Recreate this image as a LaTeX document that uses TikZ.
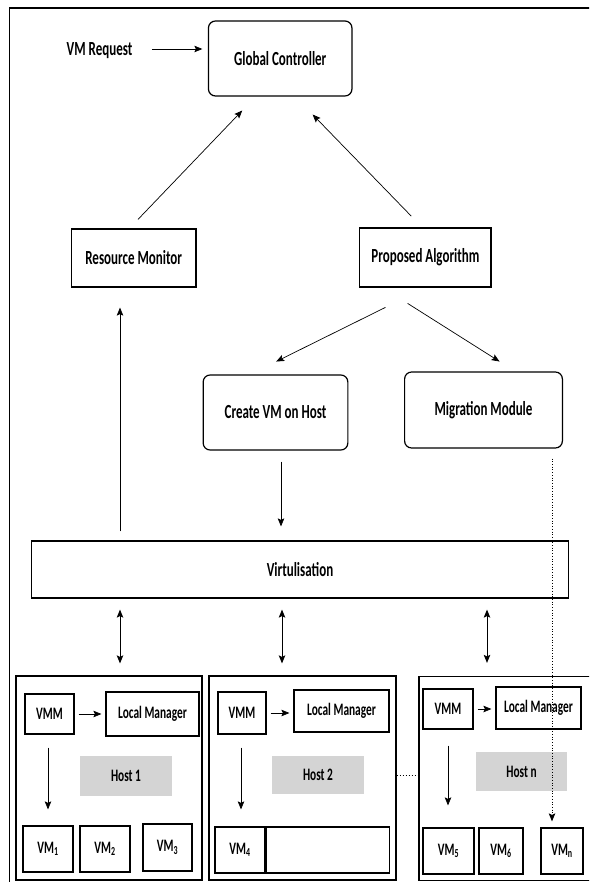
\documentclass[tikz,border=0pt]{standalone}
\usepackage{fontspec}
\setmainfont{Carlito}[FakeStretch=0.65]
\usepackage{tikz}
\usetikzlibrary{arrows.meta}
\usetikzlibrary{positioning}
\tikzset{>={Stealth[length=8pt,width=6.5pt,inset=1.5pt]}}
\tikzset{
  box/.style={draw, line width=1.2pt, inner sep=0pt, font=\fontsize{20}{22}\selectfont\bfseries},
  rbox/.style={box, rounded corners=7pt},
  sbox/.style={box, font=\fontsize{17.5}{19}\selectfont\bfseries},
  hostlbl/.style={fill=black!17, inner sep=0pt, font=\fontsize{17.5}{19}\selectfont\bfseries},
  hostbox/.style={draw, line width=1.2pt, inner sep=0pt},
  arr/.style={->, line width=0.7pt},
  dbl/.style={<->, line width=1pt},
}

\begin{document}
\begin{tikzpicture}[x=1pt,y=-1pt]
        \useasboundingbox (0,0) rectangle (589,882);
        \clip (0,0) rectangle (589,882);
        \fill[white] (0,0) rectangle (589,882);
        % outer frame
        \draw[line width=1.8pt] (9.4,890) -- (9.4,8) -- (600,8);

        % upper part
        \node[font=\fontsize{20}{22}\selectfont\bfseries] (req) at (99.5,51) {VM Request};
        \node[rbox, minimum width=143.5pt, minimum height=75pt] (gc) at (280.2,58.5) {Global Controller};
        \node[box, minimum width=124.7pt, minimum height=58pt] (rm) at (133.7,258) {Resource Monitor};
        \node[box, minimum width=131.1pt, minimum height=59pt] (pa) at (425.4,257.5) {Proposed Algorithm};
        \node[rbox, minimum width=144.7pt, minimum height=75pt] (cv) at (275.5,412.5) {Create VM on Host};
        \node[rbox, minimum width=157.8pt, minimum height=76pt] (mm) at (483.5,410) {Migration Module};
        \node[box, minimum width=536.8pt, minimum height=57pt] (virt) at (300,569.5) {Virtulisation};

        \draw[arr, shorten <=16pt, shorten >=5.5pt] ([yshift=2pt]req.east) -- ([yshift=2pt]req.east -| gc.west);
        \draw[arr, shorten <=12.4pt, shorten >=19.3pt] ([xshift=-4.3pt]rm.north) -- ([xshift=-24.6pt]gc.south);
        \draw[arr, shorten <=15.7pt, shorten >=25pt] ([xshift=-3.2pt]pa.north) -- ([xshift=15pt]gc.south);
        \draw[arr, shorten <=44.6pt, shorten >=29pt] (pa.south) -- ([xshift=-25.3pt]cv.north);
        \draw[arr, shorten <=29.6pt, shorten >=18.5pt] ([xshift=-42.8pt]pa.south) -- ([xshift=31.7pt]mm.north);
        \draw[arr, shorten <=11pt, shorten >=14pt] ([xshift=5.5pt]cv.south) -- ([xshift=5.5pt]cv.south |- virt.north);
        \draw[arr, shorten <=9pt, shorten >=20pt] ([xshift=-180pt]virt.north) -- ([xshift=-180pt]virt.north |- rm.south);

        % hosts
        \node[hostbox, minimum width=186pt, minimum height=204pt] (h1) at (109,778) {};
        \node[hostbox, minimum width=187pt, minimum height=204pt] (h2) at (302.5,778) {};
        \node[hostbox, minimum width=181pt, minimum height=204pt] (hn) at (509.5,778.5) {};

        \draw[dbl, shorten <=12pt, shorten >=11pt] ([xshift=11pt]h1.north) -- ([xshift=11pt]h1.north |- virt.south);
        \draw[dbl, shorten <=12pt, shorten >=11pt] ([xshift=-20.5pt]h2.north) -- ([xshift=-20.5pt]h2.north |- virt.south);
        \draw[dbl, shorten <=13pt, shorten >=11pt] ([xshift=-22.5pt]hn.north) -- ([xshift=-22.5pt]hn.north |- virt.south);
        \draw[dotted, line width=1pt] ([yshift=3pt]h2.east) -- ([yshift=3pt]h2.east -| hn.west);

        % host 1
        \node[sbox, minimum width=49pt, minimum height=40pt] (vmm1) at (49.5,714) {VMM};
        \node[sbox, minimum width=93pt, minimum height=44pt] (lm1) at (152.5,714) {Local Manager};
        \node[hostlbl, minimum width=92pt, minimum height=40pt] (hl1) at (126,776) {Host 1};
        \node[sbox, minimum width=50pt, minimum height=46pt] (vm1) at (48,849) {VM\textsubscript{1}};
        \node[sbox, minimum width=50pt, minimum height=46pt] (vm2) at (105,849) {VM\textsubscript{2}};
        \node[sbox, minimum width=49pt, minimum height=47pt] (vm3) at (167.5,847.5) {VM\textsubscript{3}};
        \draw[arr, shorten <=4pt, shorten >=4pt] (vmm1.east) -- (lm1.west);
        \draw[arr, shorten <=13pt, shorten >=16pt] ([xshift=-1.5pt]vmm1.south) -- (vm1.north);

        % host 2
        \node[sbox, minimum width=48pt, minimum height=42pt] (vmm2) at (242,713) {VMM};
        \node[sbox, minimum width=95pt, minimum height=42pt] (lm2) at (341.5,711) {Local Manager};
        \node[hostlbl, minimum width=92pt, minimum height=38pt] (hl2) at (318,775) {Host 2};
        \node[sbox, minimum width=50pt, minimum height=46pt] (vm4) at (240,850) {VM\textsubscript{4}};
        \node[sbox, minimum width=123pt, minimum height=46pt, anchor=west] (vmx) at (vm4.east) {};
        \draw[arr, shorten <=4pt, shorten >=4pt] (vmm2.east) -- (vmm2.east -| lm2.west);
        \draw[arr, shorten <=13pt, shorten >=17pt] ([xshift=-1pt]vmm2.south) -- ([xshift=-1pt]vmm2.south |- vm4.north);

        % host n
        \node[sbox, minimum width=50pt, minimum height=40pt] (vmm3) at (448,709) {VMM};
        \node[sbox, minimum width=85pt, minimum height=42pt] (lmn) at (538.5,708) {Local Manager};
        \node[hostlbl, minimum width=91pt, minimum height=39pt] (hln) at (521.5,771.5) {Host n};
        \node[sbox, minimum width=51pt, minimum height=46pt] (vm5) at (448.5,851) {VM\textsubscript{5}};
        \node[sbox, minimum width=44pt, minimum height=46pt] (vm6) at (501,851) {VM\textsubscript{6}};
        \node[sbox, minimum width=42pt, minimum height=46pt] (vmn) at (562,851) {VM\textsubscript{n}};
        \draw[arr, shorten <=4pt, shorten >=4pt] (vmm3.east) -- (vmm3.east -| lmn.west);
        \draw[arr, shorten <=16pt, shorten >=22pt] (vmm3.south) -- (vmm3.south |- vm5.north);

        % migration path
        \draw[arr, dotted, line width=1pt, shorten <=10pt, shorten >=6pt] ([xshift=68.5pt]mm.south) -- ([xshift=68.5pt]mm.south |- vmn.north);
    \end{tikzpicture}
\end{document}
